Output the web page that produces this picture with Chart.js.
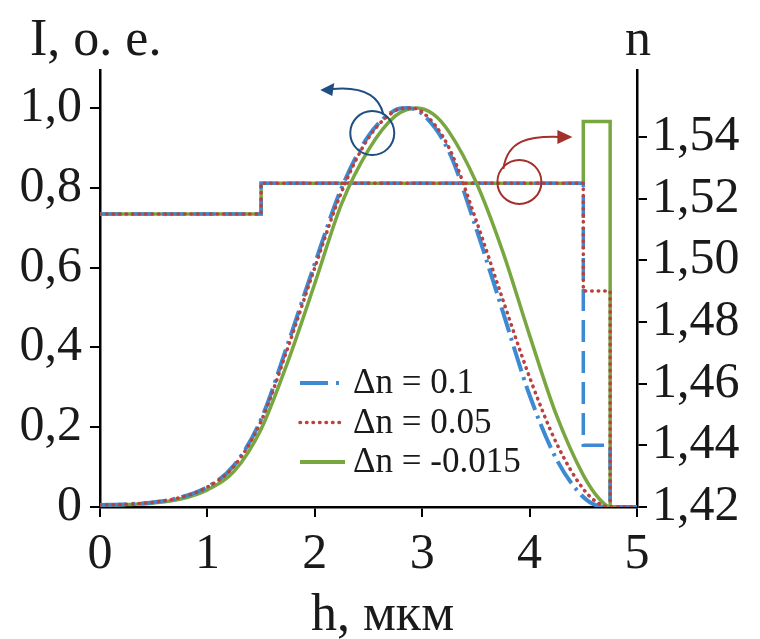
<!DOCTYPE html>
<html>
<head>
<meta charset="utf-8">
<script src="https://cdn.jsdelivr.net/npm/chart.js@4.4.1/dist/chart.umd.min.js"></script>
<style>
html, body { margin: 0; padding: 0; background: #fff; }
</style>
</head>
<body>
<canvas id="modegraph" width="760" height="639"></canvas>
<script>
// h, мкм -> I, o. e.  (intensity, left axis)
var hBlue = [0, 0.25, 0.5, 0.75, 1.0, 1.25, 1.5, 1.75, 2.0, 2.25, 2.5, 2.75, 2.85, 3.0, 3.25, 3.5, 3.75, 4.0, 4.25, 4.5, 4.65, 4.75, 5];
var iBlue = [0.005, 0.007, 0.012, 0.024, 0.05, 0.105, 0.22, 0.41, 0.61, 0.80, 0.93, 0.995, 1.0, 0.985, 0.89, 0.70, 0.49, 0.28, 0.12, 0.025, 0.002, 0, 0];

var hRed = [0, 0.25, 0.5, 0.75, 1.0, 1.25, 1.5, 1.75, 2.0, 2.25, 2.5, 2.75, 2.87, 3.0, 3.25, 3.5, 3.75, 4.0, 4.25, 4.5, 4.65, 4.75, 5];
var iRed = [0.005, 0.007, 0.012, 0.024, 0.05, 0.103, 0.215, 0.40, 0.60, 0.79, 0.925, 0.993, 1.0, 0.99, 0.90, 0.72, 0.52, 0.325, 0.16, 0.045, 0.008, 0, 0];

var hGreen = [0, 0.25, 0.5, 0.75, 1.0, 1.25, 1.5, 1.75, 2.0, 2.25, 2.5, 2.75, 2.95, 3.1, 3.25, 3.5, 3.75, 4.0, 4.25, 4.5, 4.65, 4.75, 5];
var iGreen = [0.004, 0.006, 0.01, 0.02, 0.043, 0.09, 0.195, 0.365, 0.56, 0.76, 0.895, 0.98, 1.0, 0.985, 0.94, 0.815, 0.64, 0.43, 0.23, 0.08, 0.02, 0, 0];

// refractive index profiles (right axis)
var hN = [0, 1.5, 1.5, 4.5, 4.5, 4.75, 4.75, 5];
var nBlue  = [1.515, 1.515, 1.525, 1.525, 1.44, 1.44, 1.42, 1.42];
var nRed   = [1.515, 1.515, 1.525, 1.525, 1.49, 1.49, 1.42, 1.42];
var nGreen = [1.515, 1.515, 1.525, 1.525, 1.545, 1.545, 1.42, 1.42];

var labels = ['\u0394n = 0.1', '\u0394n = 0.05', '\u0394n = -0.015'];

var xTicks = [0, 1, 2, 3, 4, 5];
var iTicks = [0, 0.2, 0.4, 0.6, 0.8, 1.0];
var nTicks = [1.42, 1.44, 1.46, 1.48, 1.50, 1.52, 1.54];

var BLUE = '#3d8ad3', RED = '#b8423f', GREEN = '#78a640';
var DASH_BLUE = [26, 6, 3, 6], DASH_BLUE_N = [22, 9], DASH_RED = [0.5, 6];
var FONT = "'Liberation Serif', 'DejaVu Serif', serif";

function pts(xs, ys) {
    return xs.map(function(x, i) { return {x: x, y: ys[i]}; });
}
function setTicks(arr) {
    return function(scale) { scale.ticks = arr.map(function(v) { return {value: v}; }); };
}

Chart.defaults.font.family = FONT;
Chart.defaults.color = '#1a1a1a';

var extras = {
    id: 'extras',
    afterDatasetsDraw: function(chart) {
        var c = chart.ctx, x = chart.scales.x, y = chart.scales.y, y1 = chart.scales.y1;
        c.save();
        c.lineWidth = 2;
        // blue marker: circle on the intensity curve, arrow to the left axis
        var bx = x.getPixelForValue(2.535), by = y.getPixelForValue(0.937);
        c.strokeStyle = '#1f4f82';
        c.fillStyle = '#1f4f82';
        c.beginPath(); c.arc(bx, by, 22, 0, Math.PI * 2); c.stroke();
        c.beginPath(); c.moveTo(bx + 11, by - 19);
        c.quadraticCurveTo(bx + 4, by - 48, bx - 40, by - 44); c.stroke();
        c.beginPath(); c.moveTo(bx - 52, by - 43); c.lineTo(bx - 38, by - 50); c.lineTo(bx - 40, by - 37); c.closePath(); c.fill();
        // red marker: circle on the index profile, arrow to the right axis
        var rx = x.getPixelForValue(3.905), ry = y1.getPixelForValue(1.5254);
        c.strokeStyle = '#a3302a';
        c.fillStyle = '#a3302a';
        c.beginPath(); c.arc(rx, ry, 22, 0, Math.PI * 2); c.stroke();
        c.beginPath(); c.moveTo(rx - 16, ry - 13);
        c.bezierCurveTo(rx - 12, ry - 42, rx + 10, ry - 46, rx + 40, ry - 45); c.stroke();
        c.beginPath(); c.moveTo(rx + 53, ry - 45); c.lineTo(rx + 38, ry - 52); c.lineTo(rx + 38, ry - 38); c.closePath(); c.fill();
        c.restore();
    },
    afterDraw: function(chart) {
        var c = chart.ctx, a = chart.chartArea;
        c.save();
        c.fillStyle = '#1a1a1a';
        c.textBaseline = 'alphabetic';
        c.font = '52px ' + FONT;
        c.textAlign = 'left';
        c.fillText('I, o. e.', 30, 55);
        c.textAlign = 'center';
        c.fillText('n', a.right + 1, 55);
        c.fillText('h, мкм', (a.left + a.right) / 2 + 14, 630);
        // legend inside the plot
        var rows = [
            {t: labels[0], col: BLUE, dash: [28, 8, 3, 8], cap: 'butt', w: 4},
            {t: labels[1], col: RED, dash: DASH_RED, cap: 'round', w: 3.5},
            {t: labels[2], col: GREEN, dash: [], cap: 'butt', w: 4}
        ];
        c.font = '35px ' + FONT;
        c.textAlign = 'left';
        c.textBaseline = 'middle';
        rows.forEach(function(r, i) {
            var ly = a.top + 313 + i * 39.5, lx = a.left + 200;
            c.strokeStyle = r.col; c.lineWidth = r.w; c.lineCap = r.cap; c.setLineDash(r.dash);
            c.beginPath(); c.moveTo(lx, ly); c.lineTo(lx + 45, ly); c.stroke();
            c.setLineDash([]);
            c.fillText(r.t, lx + 53, ly + 1);
        });
        c.restore();
    }
};

var axisGrid = { drawOnChartArea: false, color: '#000', lineWidth: 2, tickLength: 10 };
var axisBorder = { color: '#000', width: 2.5 };

new Chart(document.getElementById('modegraph').getContext('2d'), {
    type: 'line',
    data: {
        datasets: [
            { label: labels[1], data: pts(hRed, iRed), yAxisID: 'y', borderColor: RED, borderWidth: 3.5, borderDash: DASH_RED, borderCapStyle: 'round', cubicInterpolationMode: 'monotone' },
            { label: labels[0], data: pts(hBlue, iBlue), yAxisID: 'y', borderColor: BLUE, borderWidth: 4, borderDash: DASH_BLUE, cubicInterpolationMode: 'monotone' },
            { label: labels[2], data: pts(hGreen, iGreen), yAxisID: 'y', borderColor: GREEN, borderWidth: 3.5, cubicInterpolationMode: 'monotone' },
            { label: 'n ' + labels[1], data: pts(hN, nRed), yAxisID: 'y1', borderColor: RED, borderWidth: 3.5, borderDash: DASH_RED, borderCapStyle: 'round' },
            { label: 'n ' + labels[0], data: pts(hN, nBlue), yAxisID: 'y1', borderColor: BLUE, borderWidth: 3.5, borderDash: DASH_BLUE_N },
            { label: 'n ' + labels[2], data: pts(hN, nGreen), yAxisID: 'y1', borderColor: GREEN, borderWidth: 3.5 }
        ]
    },
    options: {
        responsive: false,
        animation: false,
        devicePixelRatio: 1,
        layout: { padding: { top: 70, left: 0, right: 0, bottom: 0 } },
        elements: { point: { radius: 0 }, line: { fill: false } },
        plugins: { legend: { display: false }, tooltip: { enabled: false } },
        scales: {
            x: {
                type: 'linear', min: 0, max: 5,
                afterBuildTicks: setTicks(xTicks),
                afterFit: function(s) { s.height = 132; },
                ticks: { font: { size: 50 }, padding: 8, maxRotation: 0 },
                grid: axisGrid, border: axisBorder
            },
            y: {
                position: 'left', min: 0, max: 1.095,
                afterBuildTicks: setTicks(iTicks),
                afterFit: function(s) { s.width = 100; },
                ticks: { font: { size: 50 }, padding: 8,
                    callback: function(v) { return v === 0 ? '0' : v.toFixed(1).replace('.', ','); } },
                grid: axisGrid, border: axisBorder
            },
            y1: {
                position: 'right', min: 1.42, max: 1.5617,
                afterBuildTicks: setTicks(nTicks),
                afterFit: function(s) { s.width = 123; },
                ticks: { font: { size: 50 }, padding: 5,
                    callback: function(v) { return v.toFixed(2).replace('.', ','); } },
                grid: axisGrid, border: axisBorder
            }
        }
    },
    plugins: [extras]
});
</script>
</body>
</html>
